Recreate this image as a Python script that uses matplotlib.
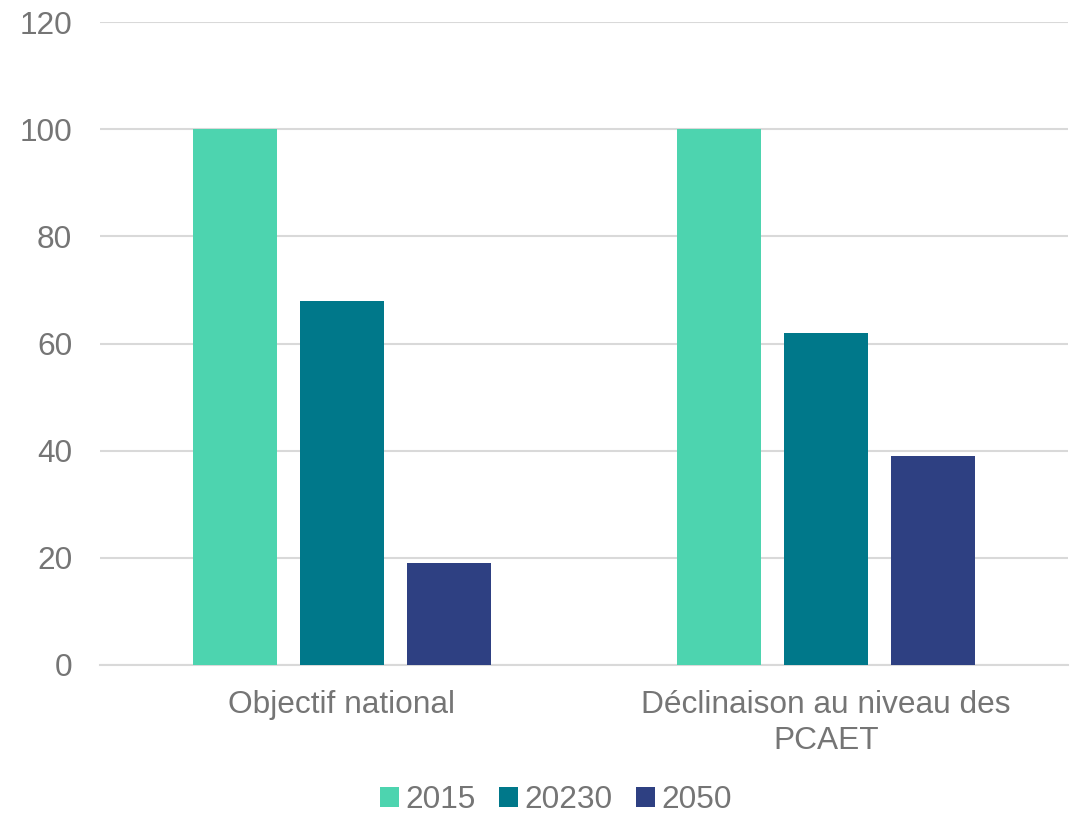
import numpy as np
import matplotlib.pyplot as plt

categories = ["Objectif national", "Déclinaison au niveau des\nPCAET"]
series = ["2015", "20230", "2050"]
values = {
    "2015": [100, 100],
    "20230": [68, 62],
    "2050": [19, 39],
}
colors = ["#4DD4AF", "#00788A", "#2E4082"]
yticks = [0, 20, 40, 60, 80, 100, 120]

plt.rcParams['font.family'] = ['Liberation Sans', 'DejaVu Sans']
grey = "#757575"
fs = 22.8

fig = plt.figure(figsize=(10.81, 8.14), dpi=100)
ax = fig.add_axes([100 / 1081, 1 - 665 / 814, 968 / 1081, (665 - 22) / 814])

x = np.arange(len(categories))
width = 0.174
step = 0.221
for i, (s, c) in enumerate(zip(series, colors)):
    ax.bar(x + (i - 1) * step, values[s], width, color=c, label=s, zorder=3)

ax.set_xlim(-0.5, len(categories) - 0.5)
ax.set_ylim(0, 120)
ax.set_yticks(yticks)
ax.set_xticks(x)
ax.set_xticklabels(categories, linespacing=1.25)
ax.tick_params(axis='both', length=0, labelsize=fs, colors=grey)
ax.tick_params(axis='x', pad=18)
ax.tick_params(axis='y', pad=20)
ax.grid(axis='y', color="#D9D9D9", linewidth=1.5, zorder=0)
for side in ['left', 'right', 'top']:
    ax.spines[side].set_visible(False)
ax.spines['bottom'].set_color("#D9D9D9")
ax.spines['bottom'].set_linewidth(1.5)

leg = fig.legend(loc='center', bbox_to_anchor=(556 / 1081, 1 - 800 / 814), ncol=3,
                 frameon=False, fontsize=fs, handlelength=0.6, handleheight=0.6,
                 handletextpad=0.2, columnspacing=0.75)
for t in leg.get_texts():
    t.set_color(grey)

fig.savefig("out.png", dpi=100)
